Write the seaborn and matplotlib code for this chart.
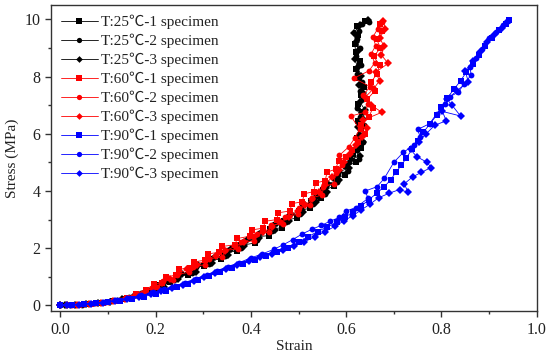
import numpy as np
import pandas as pd
import matplotlib
matplotlib.use("Agg")
import matplotlib.pyplot as plt
import seaborn as sns
from matplotlib.ticker import MultipleLocator

# ===== data: (strain, stress MPa) =====
s25_1 = [(0.000, 0.00), (0.015, 0.01), (0.035, 0.02), (0.060, 0.05), (0.085, 0.09), (0.110, 0.15),
         (0.135, 0.24), (0.160, 0.36), (0.180, 0.47), (0.200, 0.62), (0.208, 0.70), (0.230, 0.82),
         (0.242, 0.98), (0.268, 1.08), (0.276, 1.30), (0.302, 1.38), (0.310, 1.58), (0.338, 1.62),
         (0.342, 1.84), (0.372, 1.90), (0.380, 2.10), (0.408, 2.18), (0.412, 2.40), (0.438, 2.44),
         (0.440, 2.66), (0.466, 2.72), (0.470, 2.96), (0.496, 3.06), (0.500, 3.30), (0.524, 3.40),
         (0.526, 3.66), (0.548, 3.76), (0.552, 4.02), (0.574, 4.16), (0.576, 4.44), (0.598, 4.56),
         (0.600, 4.86), (0.620, 5.00), (0.615, 5.30), (0.632, 5.50), (0.622, 5.85), (0.632, 6.15),
         (0.625, 6.45), (0.634, 6.75), (0.624, 7.05), (0.632, 7.35), (0.638, 7.65), (0.626, 7.95),
         (0.620, 8.25), (0.628, 8.55), (0.620, 8.85), (0.618, 9.15), (0.624, 9.45), (0.622, 9.75),
         (0.640, 9.95)]
s25_2 = [(0.000, 0.00), (0.020, 0.02), (0.045, 0.03), (0.070, 0.07), (0.095, 0.12), (0.120, 0.19),
         (0.145, 0.29), (0.170, 0.42), (0.190, 0.55), (0.206, 0.62), (0.214, 0.80), (0.238, 0.88),
         (0.250, 1.06), (0.276, 1.14), (0.284, 1.36), (0.312, 1.44), (0.318, 1.66), (0.346, 1.72),
         (0.352, 1.94), (0.380, 2.02), (0.386, 2.24), (0.412, 2.30), (0.418, 2.54), (0.444, 2.60),
         (0.448, 2.84), (0.474, 2.90), (0.478, 3.14), (0.504, 3.20), (0.508, 3.46), (0.530, 3.54),
         (0.534, 3.80), (0.556, 3.90), (0.558, 4.18), (0.580, 4.30), (0.582, 4.60), (0.604, 4.70),
         (0.606, 5.00), (0.626, 5.12), (0.622, 5.42), (0.635, 5.70), (0.626, 6.00), (0.638, 6.30),
         (0.630, 6.60), (0.622, 6.90), (0.636, 7.20), (0.628, 7.50), (0.634, 7.80), (0.622, 8.10),
         (0.632, 8.40), (0.620, 8.70), (0.628, 9.00), (0.622, 9.30), (0.626, 9.60), (0.634, 9.82),
         (0.648, 9.90)]
s25_3 = [(0.000, 0.00), (0.010, 0.01), (0.030, 0.02), (0.055, 0.04), (0.080, 0.08), (0.105, 0.13),
         (0.130, 0.21), (0.155, 0.32), (0.175, 0.44), (0.195, 0.57), (0.218, 0.64), (0.222, 0.84),
         (0.248, 0.92), (0.256, 1.10), (0.284, 1.18), (0.290, 1.40), (0.318, 1.48), (0.324, 1.70),
         (0.352, 1.76), (0.358, 1.98), (0.386, 2.06), (0.392, 2.28), (0.418, 2.34), (0.424, 2.58),
         (0.450, 2.64), (0.454, 2.88), (0.480, 2.96), (0.484, 3.20), (0.510, 3.28), (0.512, 3.54),
         (0.536, 3.62), (0.538, 3.88), (0.560, 3.98), (0.562, 4.26), (0.584, 4.38), (0.586, 4.68),
         (0.606, 4.80), (0.610, 5.10), (0.628, 5.22), (0.624, 5.52), (0.636, 5.70), (0.628, 5.92),
         (0.624, 6.22), (0.635, 6.52), (0.640, 6.82), (0.628, 7.12), (0.636, 7.42), (0.626, 7.72),
         (0.632, 8.02), (0.624, 8.32), (0.618, 8.62), (0.626, 8.92), (0.620, 9.22), (0.616, 9.52),
         (0.628, 9.80), (0.645, 9.98)]

s60_1 = [(0.000, 0.00), (0.020, 0.00), (0.040, 0.02), (0.065, 0.05), (0.090, 0.10), (0.115, 0.17),
         (0.140, 0.27), (0.160, 0.40), (0.180, 0.54), (0.196, 0.74), (0.214, 0.80), (0.222, 1.00),
         (0.244, 1.06), (0.250, 1.26), (0.272, 1.32), (0.280, 1.52), (0.304, 1.58), (0.310, 1.80),
         (0.334, 1.86), (0.340, 2.06), (0.366, 2.12), (0.372, 2.34), (0.398, 2.42), (0.402, 2.64),
         (0.426, 2.70), (0.430, 2.94), (0.454, 3.00), (0.458, 3.24), (0.482, 3.30), (0.486, 3.56),
         (0.508, 3.62), (0.512, 3.90), (0.532, 3.98), (0.536, 4.28), (0.556, 4.36), (0.560, 4.66),
         (0.578, 4.76), (0.584, 5.06), (0.600, 5.20), (0.612, 5.44), (0.624, 5.70), (0.640, 6.00),
         (0.632, 6.30), (0.648, 6.60), (0.656, 6.90), (0.644, 7.20), (0.660, 7.50), (0.652, 7.80),
         (0.665, 8.10), (0.670, 8.40), (0.658, 8.70), (0.672, 9.00), (0.664, 9.30), (0.676, 9.60),
         (0.670, 9.85)]
s60_2 = [(0.000, 0.00), (0.025, 0.02), (0.050, 0.04), (0.075, 0.07), (0.100, 0.12), (0.125, 0.20),
         (0.150, 0.31), (0.172, 0.45), (0.192, 0.60), (0.204, 0.66), (0.216, 0.84), (0.236, 0.90),
         (0.246, 1.08), (0.270, 1.16), (0.278, 1.36), (0.304, 1.42), (0.312, 1.62), (0.340, 1.70),
         (0.346, 1.92), (0.374, 1.98), (0.380, 2.20), (0.406, 2.26), (0.412, 2.50), (0.438, 2.56),
         (0.442, 2.80), (0.468, 2.86), (0.472, 3.10), (0.498, 3.18), (0.502, 3.42), (0.524, 3.50),
         (0.528, 3.76), (0.550, 3.86), (0.552, 4.14), (0.574, 4.26), (0.578, 4.62), (0.592, 4.90),
         (0.586, 5.25), (0.606, 5.55), (0.618, 5.85), (0.628, 6.15), (0.610, 6.62), (0.640, 6.75),
         (0.646, 7.05), (0.636, 7.35), (0.650, 7.65), (0.616, 7.94), (0.648, 8.20), (0.660, 8.48),
         (0.652, 8.78), (0.662, 9.08), (0.656, 9.38), (0.666, 9.66), (0.676, 9.92)]
s60_3 = [(0.000, 0.00), (0.015, 0.01), (0.035, 0.01), (0.060, 0.04), (0.085, 0.08), (0.110, 0.14),
         (0.135, 0.23), (0.158, 0.35), (0.178, 0.48), (0.196, 0.62), (0.214, 0.78), (0.230, 0.93),
         (0.248, 1.10), (0.266, 1.26), (0.286, 1.42), (0.306, 1.58), (0.326, 1.74), (0.346, 1.90),
         (0.366, 2.06), (0.386, 2.22), (0.406, 2.38), (0.426, 2.56), (0.444, 2.74), (0.462, 2.92),
         (0.480, 3.10), (0.498, 3.30), (0.514, 3.50), (0.528, 3.72), (0.542, 3.96), (0.556, 4.22),
         (0.570, 4.48), (0.584, 4.75), (0.596, 5.02), (0.608, 5.30), (0.620, 5.60), (0.634, 5.90),
         (0.644, 6.20), (0.636, 6.48), (0.675, 6.75), (0.652, 7.00), (0.640, 7.28), (0.658, 7.58),
         (0.670, 7.85), (0.662, 8.15), (0.688, 8.46), (0.674, 8.75), (0.680, 9.05), (0.670, 9.35),
         (0.682, 9.65), (0.678, 9.95)]

s90_1 = [(0.000, 0.00), (0.025, 0.02), (0.050, 0.04), (0.075, 0.07), (0.100, 0.11), (0.125, 0.16),
         (0.150, 0.23), (0.175, 0.31), (0.200, 0.41), (0.222, 0.52), (0.245, 0.64), (0.268, 0.76),
         (0.290, 0.90), (0.312, 1.04), (0.336, 1.18), (0.360, 1.32), (0.384, 1.46), (0.408, 1.60),
         (0.432, 1.74), (0.455, 1.88), (0.478, 2.02), (0.500, 2.20), (0.520, 2.40), (0.540, 2.58),
         (0.560, 2.74), (0.580, 2.90), (0.598, 3.08), (0.615, 3.28), (0.632, 3.48), (0.648, 3.70),
         (0.664, 3.92), (0.680, 4.15), (0.694, 4.40), (0.704, 4.65), (0.716, 4.90), (0.726, 5.15),
         (0.738, 5.45), (0.750, 5.75), (0.762, 6.05), (0.776, 6.35), (0.790, 6.65), (0.800, 6.95),
         (0.812, 7.25), (0.826, 7.55), (0.840, 7.85), (0.852, 8.15), (0.866, 8.45), (0.878, 8.75),
         (0.892, 9.05), (0.906, 9.35), (0.920, 9.62), (0.935, 9.85), (0.942, 9.98)]
s90_2 = [(0.000, 0.00), (0.020, 0.03), (0.045, 0.05), (0.070, 0.08), (0.095, 0.12), (0.120, 0.18),
         (0.145, 0.26), (0.170, 0.35), (0.195, 0.46), (0.218, 0.57), (0.240, 0.68), (0.262, 0.80),
         (0.285, 0.94), (0.308, 1.08), (0.330, 1.22), (0.352, 1.36), (0.376, 1.50), (0.400, 1.66),
         (0.424, 1.80), (0.448, 1.96), (0.468, 2.12), (0.488, 2.30), (0.508, 2.50), (0.528, 2.66),
         (0.548, 2.80), (0.566, 2.94), (0.586, 3.08), (0.600, 3.30), (0.620, 3.42), (0.646, 3.74),
         (0.640, 4.00), (0.665, 4.15), (0.680, 4.44), (0.700, 5.00), (0.720, 5.35), (0.742, 5.60),
         (0.755, 5.90), (0.750, 6.15), (0.775, 6.35), (0.790, 6.70), (0.808, 7.05), (0.818, 7.30),
         (0.835, 7.45), (0.848, 7.75), (0.862, 8.05), (0.860, 8.35), (0.872, 8.65), (0.885, 8.95),
         (0.900, 9.35), (0.915, 9.55), (0.930, 9.80), (0.940, 9.95)]
s90_3 = [(0.000, 0.00), (0.015, 0.02), (0.040, 0.03), (0.065, 0.06), (0.090, 0.10), (0.115, 0.15),
         (0.140, 0.22), (0.165, 0.30), (0.190, 0.40), (0.212, 0.50), (0.235, 0.61), (0.258, 0.73),
         (0.280, 0.86), (0.302, 0.99), (0.325, 1.13), (0.348, 1.27), (0.372, 1.41), (0.396, 1.55),
         (0.420, 1.68), (0.444, 1.80), (0.468, 1.92), (0.490, 2.06), (0.512, 2.22), (0.534, 2.40),
         (0.556, 2.58), (0.576, 2.76), (0.596, 2.96), (0.614, 3.14), (0.632, 3.34), (0.650, 3.54),
         (0.668, 3.76), (0.690, 3.92), (0.712, 4.05), (0.730, 3.95), (0.722, 4.25), (0.740, 4.50),
         (0.758, 4.65), (0.778, 4.82), (0.770, 5.00), (0.748, 5.20), (0.735, 5.45), (0.752, 5.72),
         (0.768, 6.00), (0.786, 6.30), (0.810, 6.45), (0.802, 6.78), (0.840, 6.62), (0.822, 7.00),
         (0.812, 7.20), (0.832, 7.50), (0.856, 7.82), (0.850, 8.20), (0.866, 8.55), (0.880, 8.85),
         (0.895, 9.20), (0.910, 9.45), (0.926, 9.70), (0.938, 9.90)]

labels = ["T:25℃-1 specimen", "T:25℃-2 specimen", "T:25℃-3 specimen",
          "T:60℃-1 specimen", "T:60℃-2 specimen", "T:60℃-3 specimen",
          "T:90℃-1 specimen", "T:90℃-2 specimen", "T:90℃-3 specimen"]
series = [s25_1, s25_2, s25_3, s60_1, s60_2, s60_3, s90_1, s90_2, s90_3]
colors = ["black"] * 3 + ["red"] * 3 + ["blue"] * 3
markers = ["s", "o", "D"] * 3

# ===== style =====
sns.set_theme(style="ticks")
plt.rcParams["font.family"] = ["Liberation Serif", "Noto Sans CJK SC"]
plt.rcParams["axes.edgecolor"] = "#333333"
plt.rcParams["axes.linewidth"] = 1.0

fig, ax = plt.subplots(figsize=(5.5, 3.56), dpi=100)
fig.subplots_adjust(left=0.093, right=0.976, bottom=0.126, top=0.986)

for pts, lab, c, m in zip(series, labels, colors, markers):
    df = pd.DataFrame(pts, columns=["Strain", "Stress"])
    ms = 3.8 if m == "D" else 4.2
    sns.lineplot(data=df, x="Strain", y="Stress", sort=False, estimator=None,
                 color=c, marker=m, markersize=ms, markeredgewidth=0,
                 linewidth=0.6, label=lab, ax=ax)

ax.set_xlim(-0.019, 1.0)
ax.set_ylim(-0.2, 10.5)
ax.xaxis.set_major_locator(MultipleLocator(0.2))
ax.xaxis.set_minor_locator(MultipleLocator(0.1))
ax.yaxis.set_major_locator(MultipleLocator(2))
ax.yaxis.set_minor_locator(MultipleLocator(1))
ax.set_xticklabels([f"{v:.1f}" for v in ax.get_xticks()])
ax.tick_params(which="major", direction="out", length=4, width=1, labelsize=11.5,
               colors="#333333", labelcolor="#222222")
ax.tick_params(which="minor", direction="out", length=2.5, width=1, colors="#333333")
ax.set_xlabel("Strain", fontsize=11, color="#222222", labelpad=2)
ax.set_ylabel("Stress (MPa)", fontsize=11, color="#222222", labelpad=4)

leg = ax.legend(loc="upper left", frameon=False, fontsize=11, handlelength=2.4,
                handletextpad=0.2, labelspacing=0.3, borderaxespad=0.25,
                bbox_to_anchor=(0.0, 1.0), markerscale=0.9)
for t in leg.get_texts():
    t.set_color("#222222")

plt.savefig("out.png", dpi=100)
